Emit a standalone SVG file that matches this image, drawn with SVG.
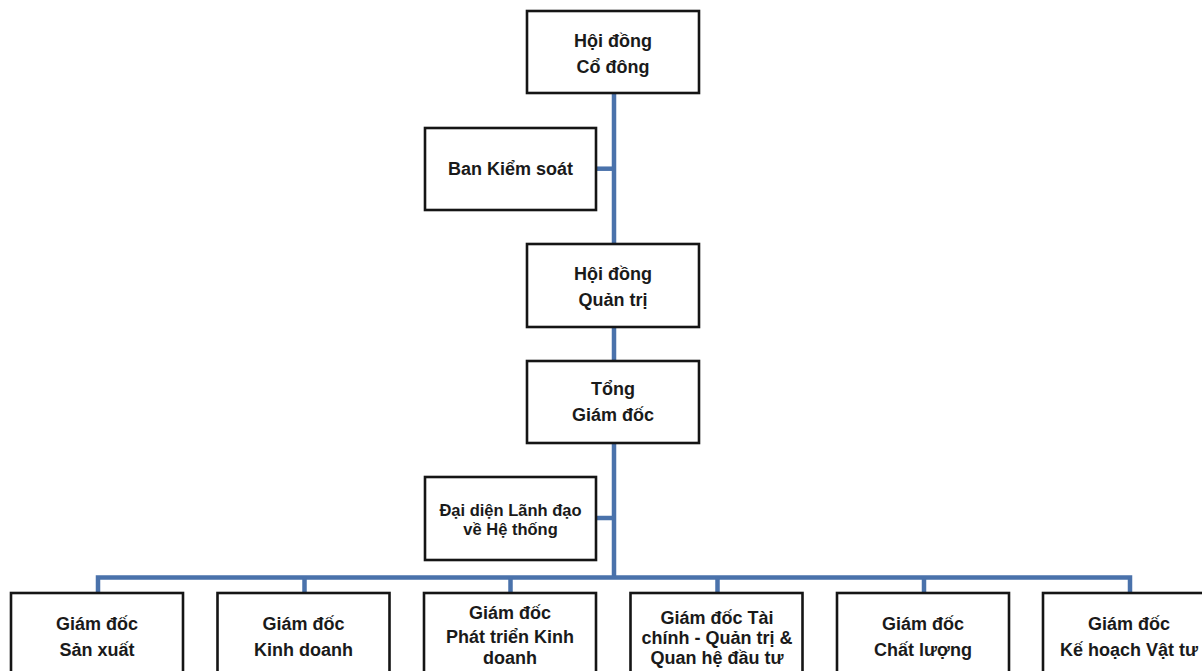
<svg xmlns="http://www.w3.org/2000/svg" width="1202" height="671" viewBox="0 0 1202 671">
<style>
.box{fill:#ffffff;stroke:#151515;stroke-width:2.6}
.t{font-family:"Liberation Sans",Arial,sans-serif;font-weight:bold;font-size:18px;fill:#1a1a1a;text-anchor:middle}
.s{font-size:16.5px}
.c{fill:none;stroke:#4a72ab;stroke-width:4.5}
</style>
<rect width="1202" height="671" fill="#ffffff"/>
<g id="connectors">
<path class="c" d="M614 93 V577.5"/>
<path class="c" d="M596 168.7 H614"/>
<path class="c" d="M596 518 H614"/>
<path class="c" d="M98 593 V577.5 H1130 V593"/>
<path class="c" d="M304.5 577.5 V593"/>
<path class="c" d="M510.5 577.5 V593"/>
<path class="c" d="M717.5 577.5 V593"/>
<path class="c" d="M924 577.5 V593"/>
</g>
<g id="hoi-dong-co-dong">
<rect class="box" x="527" y="11" width="172" height="82"/>
<text class="t" x="613" y="47">Hội đồng</text>
<text class="t" x="613" y="73">Cổ đông</text>
</g>
<g id="ban-kiem-soat">
<rect class="box" x="425" y="128" width="171" height="82"/>
<text class="t" x="510.5" y="175">Ban Kiểm soát</text>
</g>
<g id="hoi-dong-quan-tri">
<rect class="box" x="527" y="244" width="172" height="83"/>
<text class="t" x="613" y="280">Hội đồng</text>
<text class="t" x="613" y="306">Quản trị</text>
</g>
<g id="tong-giam-doc">
<rect class="box" x="527" y="361" width="172" height="82"/>
<text class="t" x="613" y="395">Tổng</text>
<text class="t" x="613" y="421">Giám đốc</text>
</g>
<g id="dai-dien-lanh-dao">
<rect class="box" x="425" y="477" width="171" height="83"/>
<text class="t s" x="510.5" y="516">Đại diện Lãnh đạo</text>
<text class="t s" x="510.5" y="535">về Hệ thống</text>
</g>
<g id="gd-san-xuat">
<rect class="box" x="11" y="593" width="172" height="100"/>
<text class="t" x="97" y="630">Giám đốc</text>
<text class="t" x="97" y="656">Sản xuất</text>
</g>
<g id="gd-kinh-doanh">
<rect class="box" x="217.5" y="593" width="172" height="100"/>
<text class="t" x="303.5" y="630">Giám đốc</text>
<text class="t" x="303.5" y="656">Kinh doanh</text>
</g>
<g id="gd-phat-trien-kinh-doanh">
<rect class="box" x="424" y="593" width="172" height="100"/>
<text class="t" x="510" y="619">Giám đốc</text>
<text class="t" x="510" y="643">Phát triển Kinh</text>
<text class="t" x="510" y="664">doanh</text>
</g>
<g id="gd-tai-chinh">
<rect class="box" x="630.5" y="593" width="172" height="100"/>
<text class="t" x="717" y="624">Giám đốc Tài</text>
<text class="t" x="717" y="644">chính - Quản trị &amp;</text>
<text class="t" x="717" y="664">Quan hệ đầu tư</text>
</g>
<g id="gd-chat-luong">
<rect class="box" x="837" y="593" width="172" height="100"/>
<text class="t" x="923" y="630">Giám đốc</text>
<text class="t" x="923" y="656">Chất lượng</text>
</g>
<g id="gd-ke-hoach-vat-tu">
<rect class="box" x="1043" y="593" width="172" height="100"/>
<text class="t" x="1129" y="630">Giám đốc</text>
<text class="t" x="1129" y="656">Kế hoạch Vật tư</text>
</g>
</svg>
